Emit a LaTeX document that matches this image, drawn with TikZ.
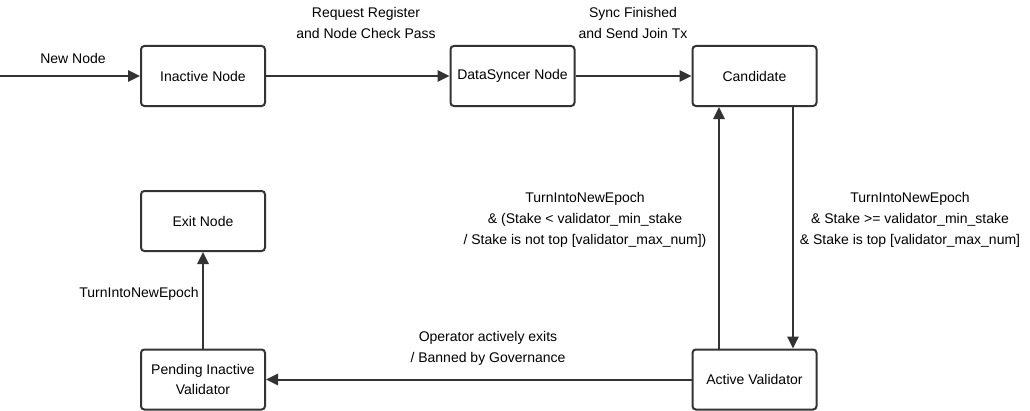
\documentclass[tikz,border=0pt]{standalone}
\usepackage{fontspec}
\setmainfont{Liberation Sans}
\usetikzlibrary{arrows.meta}
\definecolor{ink}{HTML}{333333}
\begin{document}
\begin{tikzpicture}[x=0.75pt,y=-0.75pt,
  state/.style={draw=ink,line width=1.5pt,rounded corners=2.5pt,minimum width=93pt,minimum height=45pt,inner sep=0pt,align=center,text=black,font=\fontsize{10.5}{15.5}\selectfont},
  conn/.style={draw=ink,line width=1.5pt,-{Triangle[length=9pt,width=8.5pt]}},
  lbl/.style={align=center,inner sep=0pt,text=black,font=\fontsize{10.5}{15.5}\selectfont}]
\fill[white] (0,0) rectangle (1030,410);
\useasboundingbox (0,0) rectangle (1030,410);
\node[state] (inactive) at (203,76) {Inactive Node};
\node[state] (sync) at (512.5,76) {DataSyncer Node};
\node[state] (cand) at (754.5,76) {Candidate};
\node[state] (exit) at (203,221) {Exit Node};
\node[state] (pend) at (203,379.5) {Pending Inactive\\Validator};
\node[state] (active) at (754.5,379.5) {Active Validator};
\coordinate (start) at (0,76);
\draw[conn] (start) -- (inactive);
\draw[conn] (inactive) -- (sync);
\draw[conn] (sync) -- (cand);
\draw[conn] (active.north -| 719,0) -- (cand.south -| 719,0);
\draw[conn] (cand.south -| 793,0) -- (active.north -| 793,0);
\draw[conn] (active) -- (pend);
\draw[conn] (pend) -- (exit);
\node[lbl] at (73,58) {New Node};
\node[lbl] at (366,23) {Request Register\\and Node Check Pass};
\node[lbl] at (633,23) {Sync Finished\\and Send Join Tx};
\node[lbl] at (585,220) {TurnIntoNewEpoch\\\& (Stake < validator\_min\_stake\\/ Stake is not top [validator\_max\_num])};
\node[lbl] at (910,220) {TurnIntoNewEpoch\\\& Stake >= validator\_min\_stake\\\& Stake is top [validator\_max\_num]};
\node[lbl] at (488,348.5) {Operator actively exits\\/ Banned by Governance};
\node[lbl,anchor=east] at (199,294) {TurnIntoNewEpoch};
\end{tikzpicture}
\end{document}
